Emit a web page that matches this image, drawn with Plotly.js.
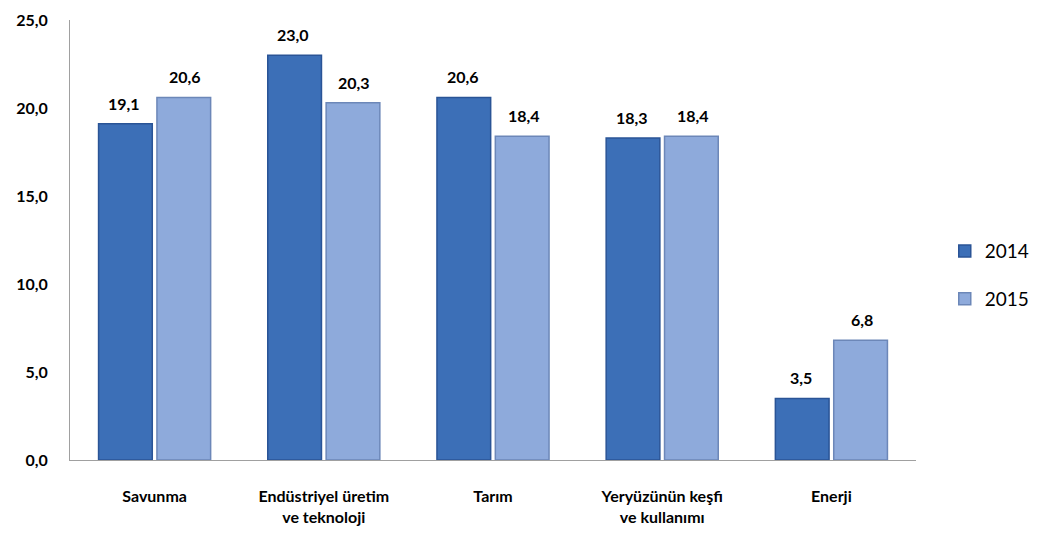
<!DOCTYPE html>
<html>
<head>
<meta charset="utf-8">
<script src="https://cdn.plot.ly/plotly-3.0.1.min.js"></script>
<style>html,body{margin:0;padding:0;background:#fff;}#chart{width:1041px;height:534px;}</style>
</head>
<body>
<div id="chart"></div>
<script>
const categories = ["Savunma", "Endüstriyel üretim<br>ve teknoloji", "Tarım", "Yeryüzünün keşfi<br>ve kullanımı", "Enerji"];
const values2014 = [19.1, 23.0, 20.6, 18.3, 3.5];
const values2015 = [20.6, 20.3, 18.4, 18.4, 6.8];
const seriesNames = ["2014", "2015"];
const yTicks = [0, 5, 10, 15, 20, 25];

const fmt = v => v.toFixed(1).replace('.', ',');
const FONT = "Lato, 'Open Sans', sans-serif";

const traces = [
  {type: 'bar', name: seriesNames[0], x: categories, y: values2014, legendgroup: 'a',
   marker: {color: '#3c6fb7', line: {color: '#2a5496', width: 1.5}}},
  {type: 'bar', name: seriesNames[1], x: categories, y: values2015, legendgroup: 'b',
   marker: {color: '#8eaadb', line: {color: '#6c87b8', width: 1.5}}}
];

const annotations = [];
[values2014, values2015].forEach((vals, s) => {
  vals.forEach((v, i) => {
    annotations.push({
      x: categories[i], y: v, xref: 'x', yref: 'y', text: fmt(v), showarrow: false,
      yanchor: 'bottom', yshift: 9, xshift: s === 0 ? -30.5 : 30.5,
      font: {family: FONT, size: 16, color: '#000', weight: 'bold'}
    });
  });
});

const layout = {
  width: 1041, height: 534,
  margin: {l: 70, r: 125, t: 20, b: 74, autoexpand: false},
  paper_bgcolor: '#fff', plot_bgcolor: '#fff',
  separators: ',.',
  barmode: 'group', bargap: 0.31, bargroupgap: 0.08,
  showlegend: true,
  annotations: annotations,
  legend: {x: 1.034, y: 0.42, xanchor: 'left', yanchor: 'middle',
           font: {family: FONT, size: 19, color: '#000'},
           tracegroupgap: 20, traceorder: 'grouped'},
  xaxis: {showline: true, linecolor: '#a0a0a0', linewidth: 1, ticks: '', showgrid: false,
          tickfont: {family: FONT, size: 16, color: '#000', weight: 'bold'},
          ticklabelstandoff: 22},
  yaxis: {range: [0, 25], tickvals: yTicks, tickformat: '.1f', showgrid: false, zeroline: false,
          showline: true, linecolor: '#a0a0a0', linewidth: 1, ticks: '',
          tickfont: {family: FONT, size: 16, color: '#000', weight: 'bold'},
          ticklabelstandoff: 18}
};

Plotly.newPlot('chart', traces, layout, {displayModeBar: false, staticPlot: true});
</script>
</body>
</html>
